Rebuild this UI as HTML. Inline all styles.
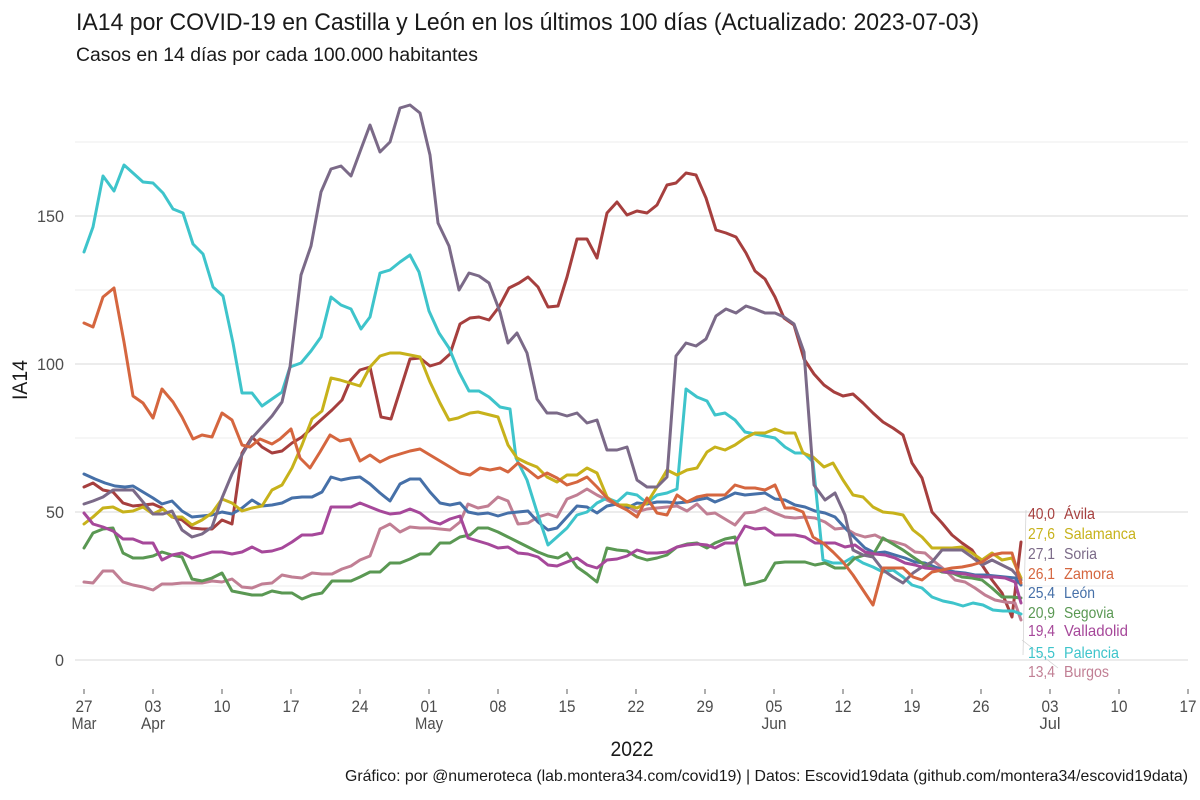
<!DOCTYPE html>
<html><head><meta charset="utf-8"><style>
html,body{margin:0;padding:0;background:#fff;}
svg{display:block;}
text{font-family:"Liberation Sans",sans-serif;}
</style></head><body>
<svg width="1200" height="800" viewBox="0 0 1200 800" xmlns="http://www.w3.org/2000/svg">
<rect width="1200" height="800" fill="#fff"/>
<text x="76" y="30" font-size="24" fill="#1a1a1a" textLength="903" lengthAdjust="spacingAndGlyphs">IA14 por COVID-19 en Castilla y León en los últimos 100 días (Actualizado: 2023-07-03)</text>
<text x="76" y="61" font-size="19" fill="#1a1a1a" textLength="402" lengthAdjust="spacingAndGlyphs">Casos en 14 días por cada 100.000 habitantes</text>
<g stroke="#eeeeee" stroke-width="1">
<line x1="75" y1="142" x2="1188" y2="142"/><line x1="75" y1="290" x2="1188" y2="290"/><line x1="75" y1="438" x2="1188" y2="438"/><line x1="75" y1="586" x2="1188" y2="586"/>
</g>
<g stroke="#e6e6e6" stroke-width="1.5">
<line x1="75" y1="216" x2="1188" y2="216"/><line x1="75" y1="364" x2="1188" y2="364"/><line x1="75" y1="512" x2="1188" y2="512"/><line x1="75" y1="660" x2="1188" y2="660"/>
</g>
<g font-size="17" fill="#4d4d4d" text-anchor="end">
<text x="64" y="222" textLength="27" lengthAdjust="spacingAndGlyphs">150</text>
<text x="64" y="370" textLength="27" lengthAdjust="spacingAndGlyphs">100</text>
<text x="64" y="518" textLength="18" lengthAdjust="spacingAndGlyphs">50</text>
<text x="64" y="666" textLength="9" lengthAdjust="spacingAndGlyphs">0</text>
</g>
<g stroke="#777" stroke-width="1.2">
<line x1="84" y1="689" x2="84" y2="694"/><line x1="153" y1="689" x2="153" y2="694"/><line x1="222" y1="689" x2="222" y2="694"/><line x1="291" y1="689" x2="291" y2="694"/><line x1="360" y1="689" x2="360" y2="694"/><line x1="429" y1="689" x2="429" y2="694"/><line x1="498" y1="689" x2="498" y2="694"/><line x1="567" y1="689" x2="567" y2="694"/><line x1="636" y1="689" x2="636" y2="694"/><line x1="705" y1="689" x2="705" y2="694"/><line x1="774" y1="689" x2="774" y2="694"/><line x1="843" y1="689" x2="843" y2="694"/><line x1="912" y1="689" x2="912" y2="694"/><line x1="981" y1="689" x2="981" y2="694"/><line x1="1050" y1="689" x2="1050" y2="694"/><line x1="1119" y1="689" x2="1119" y2="694"/><line x1="1188" y1="689" x2="1188" y2="694"/>
</g>
<g font-size="17" fill="#4d4d4d" text-anchor="middle">
<text x="84" y="712" textLength="17" lengthAdjust="spacingAndGlyphs">27</text>
<text x="153" y="712" textLength="17" lengthAdjust="spacingAndGlyphs">03</text>
<text x="222" y="712" textLength="17" lengthAdjust="spacingAndGlyphs">10</text>
<text x="291" y="712" textLength="17" lengthAdjust="spacingAndGlyphs">17</text>
<text x="360" y="712" textLength="17" lengthAdjust="spacingAndGlyphs">24</text>
<text x="429" y="712" textLength="17" lengthAdjust="spacingAndGlyphs">01</text>
<text x="498" y="712" textLength="17" lengthAdjust="spacingAndGlyphs">08</text>
<text x="567" y="712" textLength="17" lengthAdjust="spacingAndGlyphs">15</text>
<text x="636" y="712" textLength="17" lengthAdjust="spacingAndGlyphs">22</text>
<text x="705" y="712" textLength="17" lengthAdjust="spacingAndGlyphs">29</text>
<text x="774" y="712" textLength="17" lengthAdjust="spacingAndGlyphs">05</text>
<text x="843" y="712" textLength="17" lengthAdjust="spacingAndGlyphs">12</text>
<text x="912" y="712" textLength="17" lengthAdjust="spacingAndGlyphs">19</text>
<text x="981" y="712" textLength="17" lengthAdjust="spacingAndGlyphs">26</text>
<text x="1050" y="712" textLength="17" lengthAdjust="spacingAndGlyphs">03</text>
<text x="1119" y="712" textLength="17" lengthAdjust="spacingAndGlyphs">10</text>
<text x="1188" y="712" textLength="17" lengthAdjust="spacingAndGlyphs">17</text>
<text x="84" y="729" textLength="25" lengthAdjust="spacingAndGlyphs">Mar</text>
<text x="153" y="729" textLength="24" lengthAdjust="spacingAndGlyphs">Apr</text>
<text x="429" y="729" textLength="28" lengthAdjust="spacingAndGlyphs">May</text>
<text x="774" y="729" textLength="25" lengthAdjust="spacingAndGlyphs">Jun</text>
<text x="1050" y="729" textLength="21" lengthAdjust="spacingAndGlyphs">Jul</text>
</g>
<text x="632" y="756" font-size="21" fill="#1a1a1a" text-anchor="middle" textLength="43" lengthAdjust="spacingAndGlyphs">2022</text>
<text transform="translate(27,380) rotate(-90)" font-size="21" fill="#1a1a1a" text-anchor="middle" textLength="40" lengthAdjust="spacingAndGlyphs">IA14</text>
<text x="345" y="781" font-size="16" fill="#1a1a1a" textLength="843" lengthAdjust="spacingAndGlyphs">Gráfico: por @numeroteca (lab.montera34.com/covid19) | Datos: Escovid19data (github.com/montera34/escovid19data)</text>

<g stroke="#cfcfcf" stroke-width="0.7" fill="none">
<polyline points="1026,510 1023,655"/>
<polyline points="1022,640 1058,668"/>
</g>

<g fill="none" stroke-width="3" stroke-linejoin="round" stroke-linecap="round">
<polyline stroke="#a63f3e" points="84,487 93,483 103,490 113,492 123,503 133,506 143,505 153,504 162,508 172,517 182,520 192,528 202,529 212,529 222,520 232,524 242,453 252,437 262,447 272,453 282,451 292,443 302,437 312,428 322,419 332,410 342,400 350,381 360,370 370,367 381,417 391,419 410,359 420,358 430,366 440,363 450,354 460,324 470,318 479,317 489,320 499,307 509,288 519,283 528,277 538,287 548,307 558,306 567,277 577,239 587,239 597,258 607,213 617,202 627,215 637,211 647,213 657,205 667,185 676,183 686,173 696,175 706,198 716,230 726,233 736,237 746,253 755,271 765,279 775,297 784,318 794,325 804,359 814,374 824,385 834,392 843,396 853,394 863,403 873,413 883,422 893,428 903,435 912,463 922,478 932,512 942,523 952,535 962,543 972,550 982,565 992,580 1002,593 1012,617 1021,542"/>
<polyline stroke="#c17f94" points="84,582 93,583 103,571 113,571 123,582 133,585 143,587 153,590 162,584 172,584 182,583 192,583 202,583 212,581 222,582 232,579 242,587 252,588 262,584 272,583 282,575 292,577 302,578 312,573 322,574 332,574 342,569 351,566 360,560 370,556 380,529 390,524 400,532 410,527 420,528 430,528 440,529 450,530 460,522 468,504 478,508 488,506 498,497 508,501 518,524 528,523 538,517 548,514 557,517 567,499 577,495 587,489 597,495 607,500 617,505 627,506 637,512 647,509 657,508 667,507 677,506 687,511 697,504 707,514 715,513 725,519 735,525 745,513 755,512 765,508 775,513 785,517 795,518 805,517 815,518 825,522 835,529 845,528 855,534 865,537 875,535 885,540 895,542 905,545 915,552 925,553 935,562 945,570 955,580 965,582 975,588 985,595 995,600 1005,602 1015,603 1021,620"/>
<polyline stroke="#4670a8" points="84,474 95,479 105,483 115,486 125,487 133,486 143,492 153,498 162,504 172,501 182,511 192,517 202,516 212,515 222,512 232,514 242,508 252,500 262,506 272,505 282,503 292,498 302,497 312,497 322,492 331,477 341,480 351,478 360,477 370,484 380,493 390,501 400,484 410,479 420,479 430,492 440,503 450,505 460,503 468,512 478,514 488,513 498,516 508,513 518,512 528,511 538,522 548,530 557,528 567,517 577,506 587,507 597,513 607,506 617,504 627,508 637,503 647,504 657,502 667,502 677,503 687,502 697,500 707,498 715,502 725,498 735,493 745,495 755,494 765,493 775,499 785,500 795,505 805,507 815,511 825,513 835,517 845,528 855,538 865,548 875,553 885,552 895,555 905,558 915,562 925,563 935,567 945,570 955,572 965,573 975,575 985,575 995,576 1005,577 1015,578 1021,585"/>
<polyline stroke="#3ec4cb" points="84,252 93,227 103,176 114,191 124,165 133,173 143,182 153,183 163,193 173,209 183,213 193,244 203,254 213,287 223,296 233,343 242,393 252,393 262,406 272,399 282,392 290,367 301,363 311,351 321,337 331,297 341,305 351,309 361,329 370,317 380,273 390,270 400,262 410,255 419,272 429,311 439,333 449,348 459,372 469,391 479,391 489,397 500,407 510,409 516,458 527,480 537,512 548,545 557,537 567,528 577,515 587,512 597,503 607,498 617,502 627,493 637,495 647,503 657,495 667,493 677,489 686,389 697,397 707,401 715,415 725,413 735,420 745,432 755,434 765,436 775,438 785,447 795,453 804,453 813,462 823,560 833,563 843,563 853,557 863,563 873,567 883,572 893,570 903,577 912,585 922,588 932,597 943,601 953,603 963,606 973,603 983,605 993,610 1003,611 1013,611 1021,614"/>
<polyline stroke="#c7b21b" points="84,524 93,517 103,508 113,507 123,512 133,511 143,507 153,514 163,509 172,517 182,517 192,525 202,520 212,513 222,499 232,503 242,511 252,508 262,506 272,490 282,485 292,468 302,445 312,419 322,411 331,378 340,380 350,383 360,386 370,367 380,356 390,353 400,353 410,355 420,357 430,382 440,403 449,420 458,418 470,413 478,412 490,415 498,417 508,445 517,458 527,463 537,467 547,477 557,482 567,475 577,475 587,468 597,473 607,497 617,505 627,505 637,508 647,503 657,487 667,470 677,475 687,470 697,468 707,452 715,447 725,450 735,445 745,438 755,433 765,433 775,429 785,433 795,433 803,453 813,457 824,467 833,463 843,480 853,495 863,497 873,507 883,512 893,513 903,515 913,530 922,537 932,548 942,548 952,548 962,547 972,553 982,560 992,553 1002,560 1012,558 1021,578"/>
<polyline stroke="#5a9853" points="84,548 93,533 103,529 113,528 123,553 133,558 143,558 153,556 162,552 172,555 182,557 192,579 202,581 212,578 222,573 232,591 242,593 252,595 262,595 272,591 282,593 292,593 302,599 312,595 322,593 332,581 342,581 351,581 360,577 370,572 380,572 390,563 400,563 410,559 420,554 430,554 440,543 450,543 460,537 470,535 478,528 488,528 498,532 508,537 518,542 528,547 538,552 548,556 558,558 567,553 577,567 587,574 597,582 607,548 617,550 627,551 637,557 647,560 657,558 667,555 677,547 687,544 697,543 707,548 715,543 725,539 735,537 745,585 755,583 765,580 775,563 785,562 795,562 805,562 815,565 825,563 835,568 845,568 855,558 865,555 873,555 883,538 893,544 903,550 913,557 922,563 932,568 942,572 952,573 962,577 972,578 982,580 992,588 1002,597 1012,597 1021,598"/>
<polyline stroke="#7b6a88" points="84,504 93,501 103,497 113,490 123,490 133,490 143,502 153,514 163,514 172,511 182,530 192,537 202,534 212,527 222,498 232,474 242,455 252,438 262,427 272,416 282,402 290,367 301,275 311,246 321,192 331,169 341,166 351,176 361,149 370,125 380,152 390,142 400,108 410,105 420,113 430,155 438,223 449,246 459,290 469,273 479,276 489,283 500,312 508,343 517,333 527,353 537,399 547,413 557,413 567,416 577,413 587,423 597,420 607,450 617,450 627,447 637,480 647,487 657,487 667,477 676,356 686,343 696,346 706,339 716,316 726,309 736,313 746,306 755,309 765,313 775,313 784,317 794,324 804,352 814,485 825,500 835,493 845,515 853,550 863,555 873,557 883,570 893,577 903,583 913,573 922,567 932,562 942,550 952,550 962,550 972,557 982,565 992,560 1002,565 1012,570 1021,580"/>
<polyline stroke="#a6489a" points="84,513 93,524 103,527 113,531 123,539 133,539 143,543 153,543 162,560 172,555 182,553 192,558 202,555 212,552 222,552 232,554 242,552 252,547 262,552 272,551 282,548 292,542 302,535 312,535 322,533 331,507 341,507 351,507 360,503 370,507 380,511 390,514 400,513 410,509 420,513 430,521 440,524 450,519 460,516 468,538 478,541 488,544 498,548 508,547 518,553 528,554 538,557 548,565 557,566 567,562 577,558 587,565 597,568 607,560 617,559 627,556 637,550 647,553 657,553 667,552 677,547 687,545 697,544 707,545 715,548 725,543 735,543 745,526 755,529 765,528 775,535 785,535 795,535 805,537 815,543 825,543 835,543 845,547 855,545 865,552 875,554 885,555 895,558 905,563 915,565 925,568 935,569 945,572 955,573 965,574 975,576 985,577 995,577 1005,578 1015,582 1021,603"/>
<polyline stroke="#d5663f" points="84,323 93,327 103,297 114,288 124,342 133,396 143,403 153,418 162,389 173,402 182,417 193,439 202,435 212,437 222,413 232,420 242,445 250,447 260,439 272,444 280,439 291,429 300,458 310,468 320,452 330,435 340,441 350,439 360,461 370,455 380,462 390,457 400,454 410,451 420,449 430,455 440,461 450,467 460,473 470,475 480,468 490,470 500,468 508,472 518,463 528,470 538,478 547,473 557,478 567,485 577,482 587,477 597,487 607,498 617,505 627,510 637,517 647,498 657,513 667,515 677,495 687,502 697,497 707,495 715,495 725,495 735,485 745,488 755,488 765,490 775,485 785,508 793,508 803,512 813,537 823,543 833,552 843,562 853,575 863,590 873,605 883,568 893,568 903,568 913,577 922,580 932,572 942,570 952,568 962,567 972,565 982,562 992,555 1002,553 1012,553 1021,583"/>
</g>

<g font-size="16">
<text x="1028" y="519" fill="#a63f3e" textLength="27" lengthAdjust="spacingAndGlyphs">40,0</text>
<text x="1064" y="519" fill="#a63f3e" textLength="31" lengthAdjust="spacingAndGlyphs">Ávila</text>
<text x="1028" y="539" fill="#c7b21b" textLength="27" lengthAdjust="spacingAndGlyphs">27,6</text>
<text x="1064" y="539" fill="#c7b21b" textLength="72" lengthAdjust="spacingAndGlyphs">Salamanca</text>
<text x="1028" y="559" fill="#7b6a88" textLength="27" lengthAdjust="spacingAndGlyphs">27,1</text>
<text x="1064" y="559" fill="#7b6a88" textLength="33" lengthAdjust="spacingAndGlyphs">Soria</text>
<text x="1028" y="579" fill="#d5663f" textLength="27" lengthAdjust="spacingAndGlyphs">26,1</text>
<text x="1064" y="579" fill="#d5663f" textLength="50" lengthAdjust="spacingAndGlyphs">Zamora</text>
<text x="1028" y="598" fill="#4670a8" textLength="27" lengthAdjust="spacingAndGlyphs">25,4</text>
<text x="1064" y="598" fill="#4670a8" textLength="31" lengthAdjust="spacingAndGlyphs">León</text>
<text x="1028" y="618" fill="#5a9853" textLength="27" lengthAdjust="spacingAndGlyphs">20,9</text>
<text x="1064" y="618" fill="#5a9853" textLength="50" lengthAdjust="spacingAndGlyphs">Segovia</text>
<text x="1028" y="636" fill="#a6489a" textLength="27" lengthAdjust="spacingAndGlyphs">19,4</text>
<text x="1064" y="636" fill="#a6489a" textLength="64" lengthAdjust="spacingAndGlyphs">Valladolid</text>
<text x="1028" y="658" fill="#3ec4cb" textLength="27" lengthAdjust="spacingAndGlyphs">15,5</text>
<text x="1064" y="658" fill="#3ec4cb" textLength="55" lengthAdjust="spacingAndGlyphs">Palencia</text>
<text x="1028" y="677" fill="#c17f94" textLength="27" lengthAdjust="spacingAndGlyphs">13,4</text>
<text x="1064" y="677" fill="#c17f94" textLength="45" lengthAdjust="spacingAndGlyphs">Burgos</text>
</g>
</svg>
</body></html>
